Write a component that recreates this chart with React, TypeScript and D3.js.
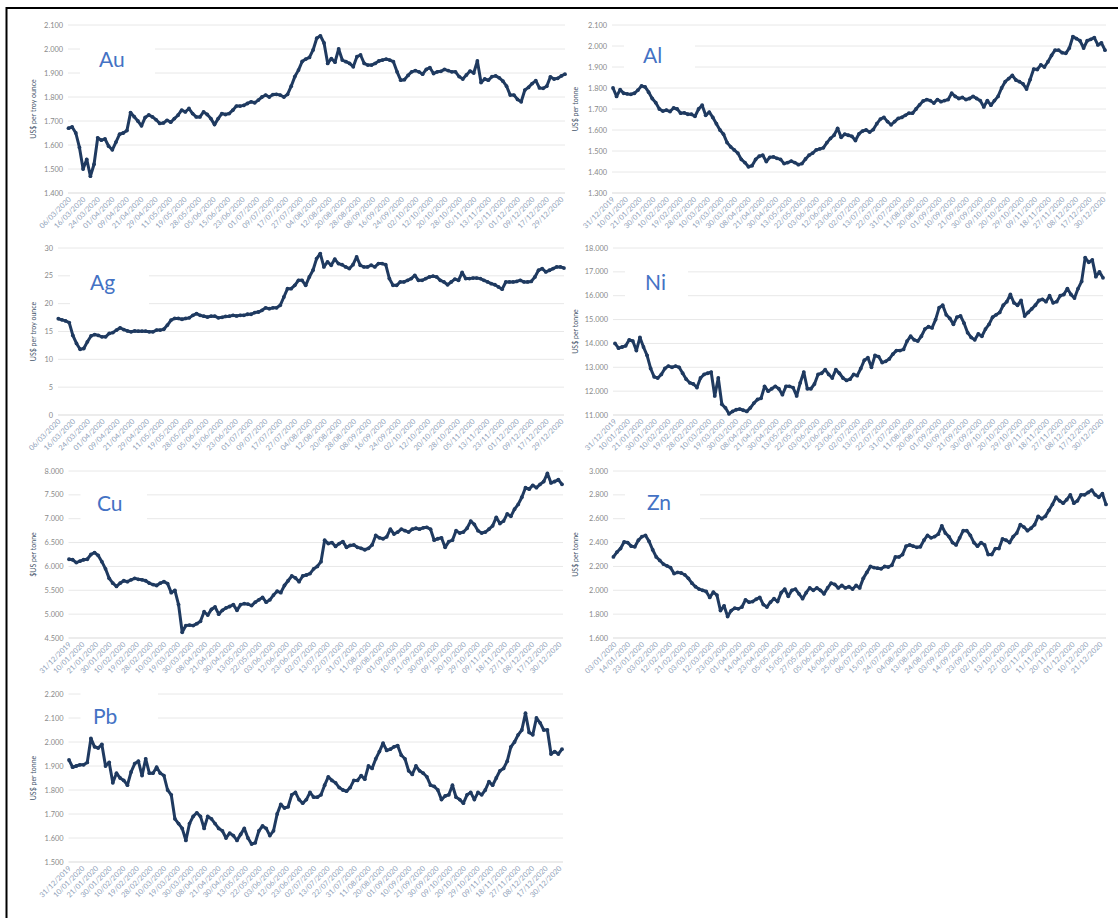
import React from 'react';
import * as d3 from 'd3';

// ---------- tick labels (category axis) ----------
const marchLabels = ['06/03/2020','16/03/2020','24/03/2020','01/04/2020','09/04/2020','21/04/2020','29/04/2020','11/05/2020','19/05/2020','28/05/2020','05/06/2020','15/06/2020','23/06/2020','01/07/2020','09/07/2020','17/07/2020','27/07/2020','04/08/2020','12/08/2020','20/08/2020','28/08/2020','08/09/2020','16/09/2020','24/09/2020','02/10/2020','12/10/2020','20/10/2020','28/10/2020','05/11/2020','13/11/2020','23/11/2020','01/12/2020','09/12/2020','17/12/2020','29/12/2020'];
const yearLabels = ['31/12/2019','10/01/2020','21/01/2020','30/01/2020','10/02/2020','19/02/2020','28/02/2020','10/03/2020','19/03/2020','30/03/2020','08/04/2020','21/04/2020','30/04/2020','13/05/2020','22/05/2020','03/06/2020','12/06/2020','23/06/2020','02/07/2020','13/07/2020','22/07/2020','31/07/2020','11/08/2020','20/08/2020','01/09/2020','10/09/2020','21/09/2020','30/09/2020','09/10/2020','20/10/2020','29/10/2020','09/11/2020','18/11/2020','27/11/2020','08/12/2020','17/12/2020','30/12/2020'];
const znLabels = ['03/01/2020','14/01/2020','23/01/2020','03/02/2020','12/02/2020','21/02/2020','03/03/2020','12/03/2020','23/03/2020','01/04/2020','14/04/2020','23/04/2020','05/05/2020','15/05/2020','27/05/2020','05/06/2020','16/06/2020','25/06/2020','06/07/2020','15/07/2020','24/07/2020','04/08/2020','13/08/2020','24/08/2020','03/09/2020','14/09/2020','23/09/2020','02/10/2020','13/10/2020','22/10/2020','02/11/2020','11/11/2020','20/11/2020','01/12/2020','10/12/2020','21/12/2020'];

// ---------- series values ----------
const auValues = [
1670,1675,1650,1590,1500,1540,1470,1520,1630,1620,
1625,1595,1580,1612,1645,1650,1660,1735,1718,1700,
1680,1715,1725,1717,1705,1690,1692,1703,1695,1710,
1724,1745,1738,1752,1731,1717,1717,1738,1727,1710,
1685,1710,1731,1727,1731,1745,1762,1762,1765,1773,
1780,1776,1787,1800,1808,1800,1810,1811,1808,1800,
1811,1845,1885,1912,1948,1958,1965,1996,2045,2055,
2025,1940,1960,1945,2000,1954,1947,1940,1926,1968,
1975,1940,1933,1933,1940,1950,1954,1958,1954,1947,
1905,1870,1872,1890,1905,1910,1905,1895,1915,1922,
1898,1905,1907,1915,1910,1905,1905,1885,1875,1892,
1908,1900,1950,1860,1875,1870,1885,1888,1880,1866,
1845,1808,1808,1790,1780,1829,1840,1856,1868,1838,
1836,1845,1884,1875,1878,1888,1895];

const alValues = [
1800,1760,1792,1775,1772,1770,1775,1790,1810,1805,
1780,1750,1730,1700,1690,1695,1688,1705,1700,1680,
1682,1675,1675,1665,1700,1718,1670,1685,1660,1630,
1600,1580,1540,1520,1505,1490,1460,1445,1425,1430,
1460,1475,1480,1450,1470,1472,1465,1460,1440,1445,
1452,1445,1435,1440,1462,1480,1490,1505,1510,1515,
1540,1560,1575,1608,1565,1580,1575,1570,1550,1582,
1595,1600,1590,1602,1630,1652,1660,1640,1625,1640,
1655,1660,1670,1680,1680,1700,1720,1738,1745,1740,
1728,1745,1735,1740,1745,1775,1760,1750,1755,1745,
1750,1760,1750,1740,1710,1740,1718,1740,1760,1800,
1830,1845,1860,1838,1830,1820,1795,1840,1890,1888,
1910,1900,1925,1955,1980,1980,1968,1965,1990,2045,
2035,2025,1990,2025,2032,2040,2005,2015,1980];

const agValues = [
17.3,17.1,16.9,16.6,14.3,12.85,11.8,11.95,13.15,14.2,
14.45,14.3,14.05,14.05,14.65,14.8,15.25,15.65,15.35,15.1,
14.95,15.1,15.05,15.05,15.05,14.95,14.95,15.25,15.25,15.4,
16.15,17.05,17.35,17.35,17.2,17.35,17.45,17.9,18.2,17.9,
17.75,17.6,17.75,17.75,17.45,17.55,17.7,17.75,17.9,17.8,
17.9,17.9,18.1,18.1,18.4,18.5,18.8,19.25,19.1,19.25,
19.25,19.7,21.2,22.7,22.7,23.3,24.2,24.2,23.3,24.8,
26.0,28.1,29.0,26.6,27.5,26.9,28.0,27.2,27.0,26.6,
26.3,27.0,28.4,26.9,26.6,26.6,26.9,26.6,27.2,27.2,
27.0,24.5,23.3,23.3,23.9,23.9,24.2,24.5,25.1,24.2,
24.2,24.5,24.8,24.95,24.8,24.2,23.9,23.4,23.9,24.4,
24.2,25.6,24.5,24.5,24.6,24.6,24.5,24.2,23.9,23.6,
23.4,23.0,22.6,23.9,23.9,23.9,24.0,24.2,23.9,23.9,
24.0,24.8,26.0,26.3,25.7,26.0,26.3,26.6,26.6,26.4];

const niValues = [
14000,13800,13850,13900,14150,14100,13700,14250,13850,13500,
12950,12600,12550,12700,12950,13050,13000,13050,13000,12750,
12500,12350,12300,12150,12550,12700,12750,12800,11800,12550,
11450,11300,11050,11150,11220,11250,11200,11150,11300,11500,
11650,11700,12200,12000,12100,12200,12100,11850,12200,12200,
12150,11800,12350,12800,12100,12100,12300,12700,12750,12900,
12700,12550,12900,12750,12550,12450,12500,12700,12650,12950,
13300,13400,13000,13500,13450,13200,13250,13350,13550,13700,
13700,13750,14100,14300,14150,14100,14300,14600,14700,14650,
15000,15500,15600,15200,15050,14800,15100,15150,14850,14450,
14250,14150,14400,14300,14600,14800,15100,15200,15300,15600,
15750,16050,15700,15600,15800,15150,15300,15450,15600,15800,
15850,15750,16000,15700,15750,16000,16050,16300,16050,15900,
16300,16600,17600,17400,17500,16800,17000,16750];

const cuValues = [
6150,6140,6080,6110,6140,6150,6250,6290,6230,6100,
5950,5750,5650,5580,5650,5700,5680,5720,5750,5730,
5720,5700,5650,5620,5600,5650,5680,5640,5450,5500,
5200,4620,4760,4770,4760,4800,4850,5050,4980,5100,
5150,5000,5080,5130,5160,5200,5080,5200,5220,5210,
5180,5250,5300,5350,5250,5300,5400,5480,5450,5600,
5700,5800,5760,5680,5800,5820,5850,5950,6000,6100,
6550,6480,6500,6420,6480,6520,6400,6440,6450,6400,
6380,6350,6380,6450,6650,6600,6580,6620,6780,6680,
6720,6780,6750,6720,6780,6800,6780,6810,6820,6780,
6550,6580,6600,6400,6520,6550,6750,6700,6720,6800,
6950,6880,6750,6700,6720,6780,6850,7030,6900,6950,
7100,7050,7200,7300,7450,7650,7620,7700,7650,7720,
7780,7950,7750,7780,7820,7720];

const znValues = [
2280,2320,2350,2405,2400,2370,2365,2420,2450,2460,
2410,2340,2280,2250,2220,2205,2190,2140,2150,2145,
2130,2100,2060,2030,2010,2000,1990,1940,1985,1960,
1830,1870,1780,1830,1850,1845,1860,1920,1900,1905,
1925,1940,1880,1860,1900,1930,1905,1980,2010,1950,
2000,2010,1970,1930,1980,2020,2000,2020,2000,1970,
2020,2060,2050,2020,2040,2020,2030,2010,2040,2020,
2100,2150,2200,2190,2185,2180,2200,2195,2210,2280,
2280,2300,2370,2380,2370,2360,2365,2420,2460,2440,
2450,2470,2540,2480,2450,2400,2380,2440,2500,2500,
2460,2400,2370,2400,2380,2300,2300,2350,2350,2430,
2420,2400,2450,2480,2550,2530,2500,2520,2550,2620,
2600,2620,2670,2720,2780,2750,2730,2760,2800,2730,
2750,2800,2800,2820,2840,2800,2780,2810,2720];

const pbValues = [
1925,1895,1900,1905,1905,1915,2015,1980,1975,1990,
1900,1915,1830,1870,1850,1840,1820,1875,1910,1920,
1860,1930,1870,1870,1895,1870,1860,1800,1780,1680,
1660,1640,1590,1660,1690,1705,1690,1640,1690,1680,
1660,1640,1630,1600,1620,1610,1590,1615,1640,1600,
1575,1580,1630,1650,1640,1610,1630,1700,1740,1725,
1730,1780,1790,1760,1745,1760,1790,1770,1770,1780,
1820,1855,1840,1830,1810,1800,1795,1810,1840,1840,
1860,1845,1900,1890,1930,1960,1995,1965,1970,1980,
1985,1945,1930,1880,1865,1900,1880,1870,1855,1820,
1815,1800,1760,1775,1780,1820,1770,1760,1745,1780,
1790,1760,1790,1780,1800,1835,1820,1850,1880,1890,
1920,1980,2000,2030,2050,2120,2040,2030,2100,2080,
2050,2050,1950,1960,1950,1970];

// ---------- metal names / units / axis ranges ----------
const names = ['Au', 'Al', 'Ag', 'Ni', 'Cu', 'Zn', 'Pb'];
const units = ['US$ per troy ounce', 'US$ per tonne', 'US$ per troy ounce', 'US$ per tonne', '$US per tonne', 'US$ per tonne', 'US$ per tonne'];
const yDomains: [number, number][] = [[1400, 2100], [1300, 2100], [0, 30], [11000, 18000], [4500, 8000], [1600, 3000], [1500, 2200]];
const ySteps = [100, 100, 5, 1000, 500, 200, 100];
const seriesList = [auValues, alValues, agValues, niValues, cuValues, znValues, pbValues];
const labelList = [marchLabels, yearLabels, marchLabels, yearLabels, yearLabels, znLabels, yearLabels];

// ---------- layout (pixels) ----------
type Layout = {
  left: number; right: number; top: number; bottom: number;
  gridLeft: number; gridRight: number; labelStart: number; labelEnd: number;
  titleX: number; nameX: number; nameY: number; boxRight: number; boxTop: number; boxBottom: number;
};
const layouts: Layout[] = [
  { left: 68.5, right: 565, top: 25, bottom: 193, gridLeft: 68, gridRight: 565, labelStart: 69.5, labelEnd: 562, titleX: 33.5, nameX: 99, nameY: 67, boxRight: 155, boxTop: 36, boxBottom: 84 },
  { left: 613, right: 1105, top: 25, bottom: 193, gridLeft: 612, gridRight: 1106, labelStart: 613, labelEnd: 1104, titleX: 576, nameX: 643, nameY: 63, boxRight: 695, boxTop: 36, boxBottom: 84 },
  { left: 58.3, right: 564, top: 248, bottom: 415, gridLeft: 58, gridRight: 564, labelStart: 59, labelEnd: 562, titleX: 34, nameX: 90, nameY: 290, boxRight: 149, boxTop: 262, boxBottom: 314 },
  { left: 615, right: 1103, top: 248, bottom: 415, gridLeft: 613, gridRight: 1103, labelStart: 615, labelEnd: 1102, titleX: 576, nameX: 645, nameY: 290, boxRight: 688, boxTop: 262, boxBottom: 308 },
  { left: 69, right: 562, top: 471, bottom: 638, gridLeft: 68.5, gridRight: 563, labelStart: 69.5, labelEnd: 560, titleX: 33.5, nameX: 97, nameY: 511, boxRight: 147, boxTop: 484, boxBottom: 530 },
  { left: 613.4, right: 1106, top: 471, bottom: 638, gridLeft: 613, gridRight: 1106, labelStart: 615, labelEnd: 1101, titleX: 576, nameX: 647, nameY: 510, boxRight: 700, boxTop: 484, boxBottom: 530 },
  { left: 69, right: 562, top: 694, bottom: 862, gridLeft: 68.5, gridRight: 563, labelStart: 69.5, labelEnd: 560, titleX: 33.5, nameX: 93, nameY: 724, boxRight: 158, boxTop: 686, boxBottom: 734 },
];

const FONT = "Lato, 'Open Sans', 'DejaVu Sans', sans-serif";
const LINE = '#1f3a60';
const fmt = (v: number) => d3.format(',')(v).replace(/,/g, '.');

function Panel({ idx }: { idx: number }) {
  const L = layouts[idx];
  const values = seriesList[idx];
  const labels = labelList[idx];
  const [y0, y1] = yDomains[idx];
  const x = d3.scaleLinear().domain([0, values.length - 1]).range([L.left, L.right]);
  const y = d3.scaleLinear().domain([y0, y1]).range([L.bottom, L.top]);
  const ticks = d3.range(y0, y1 + ySteps[idx] / 2, ySteps[idx]);
  const xl = d3.scalePoint<string>().domain(labels).range([L.labelStart, L.labelEnd]);
  const line = d3.line<number>().x((_, i) => x(i)).y((d) => y(d)).curve(d3.curveLinear);
  const midY = (L.top + L.bottom) / 2;
  return (
    <g>
      {ticks.map((t) => (
        <line key={'g' + t} x1={L.gridLeft} x2={L.gridRight} y1={y(t)} y2={y(t)} stroke={t === y0 ? '#d9d9d9' : '#e8e8e8'} strokeWidth={1} />
      ))}
      {ticks.map((t) => (
        <text key={'t' + t} x={L.gridLeft - 5} y={y(t)} dy="0.35em" textAnchor="end" fontFamily={FONT} fontSize={7.4} fill="#8a8a8a">
          {fmt(t)}
        </text>
      ))}
      <text transform={`translate(${L.titleX},${midY}) rotate(-90)`} textAnchor="middle" dy="0.35em" fontFamily={FONT} fontSize={7} fill="#44546a">
        {units[idx]}
      </text>
      {labels.map((lab) => (
        <text key={lab} transform={`translate(${(xl(lab) as number) + 2},${L.bottom + 7}) rotate(-45)`} textAnchor="end" fontFamily={FONT} fontSize={7.4} fill="#8ea0b8">
          {lab}
        </text>
      ))}
      <rect x={L.gridLeft + 12} y={L.boxTop} width={L.boxRight - L.gridLeft - 12} height={L.boxBottom - L.boxTop} fill="#ffffff" />
      <text x={L.nameX} y={L.nameY} fontFamily={FONT} fontSize={21} fill="#4472c4">
        {names[idx]}
      </text>
      <path d={line(values) || ''} fill="none" stroke={LINE} strokeWidth={3} strokeLinejoin="round" />
      {values.map((v, i) => (
        <circle key={i} cx={x(i)} cy={y(v)} r={1.9} fill={LINE} />
      ))}
    </g>
  );
}

export default function App() {
  return (
    <svg width={1118} height={918} style={{ position: 'absolute', left: 0, top: 0, background: '#ffffff' }}>
      <rect x={0} y={0} width={1118} height={918} fill="#ffffff" />
      {names.map((_, i) => (
        <Panel key={i} idx={i} />
      ))}
      <line x1={6} x2={1118} y1={8} y2={8} stroke="#000" strokeWidth={2} />
      <line x1={6.5} x2={6.5} y1={7} y2={918} stroke="#000" strokeWidth={2} />
    </svg>
  );
}
